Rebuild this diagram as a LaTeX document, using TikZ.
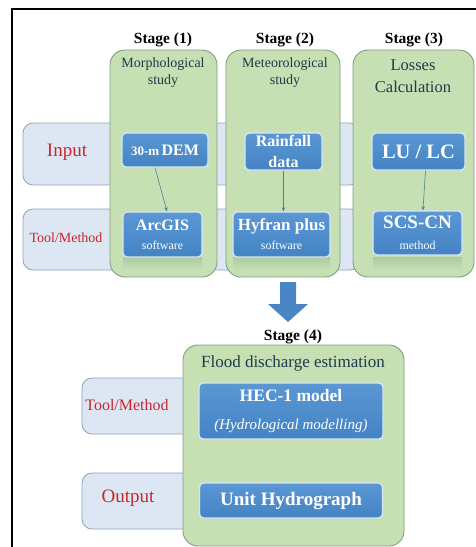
\documentclass[tikz,border=0pt]{standalone}
\usepackage{fontspec}
\setmainfont{Liberation Serif}
\usetikzlibrary{arrows.meta}
\definecolor{greenfill}{HTML}{C6E0B4}
\definecolor{greenline}{HTML}{7E9F86}
\definecolor{bandfill}{HTML}{DDE7F3}
\definecolor{bandline}{HTML}{8FA3B8}
\definecolor{bluetop}{HTML}{5A97D3}
\definecolor{bluebot}{HTML}{4483C4}
\definecolor{blueedge}{HTML}{D6E6F4}
\definecolor{labred}{HTML}{C8262E}
\definecolor{headtext}{HTML}{1F3A4A}
\definecolor{conn}{HTML}{4F7F9F}
\definecolor{bigarrow}{HTML}{4A86C6}
\definecolor{shadowc}{HTML}{ADCAA4}
\tikzset{
  greenbox/.style={draw=greenline, line width=0.9pt, fill=greenfill, rounded corners=15pt, inner sep=0pt},
  band/.style={draw=bandline, line width=0.8pt, fill=bandfill, rounded corners=10pt, inner sep=0pt},
  bluebox/.style={draw=blueedge, line width=1.4pt, top color=bluetop, bottom color=bluebot, rounded corners=4pt, inner sep=0pt, text=white, align=center, font=\bfseries},
  redlab/.style={text=labred, inner sep=0pt},
  stagelab/.style={font=\bfseries\fontsize{15.5}{18}\selectfont, inner sep=0pt},
  headlab/.style={text=headtext, align=center, inner sep=0pt},
  conn/.style={draw=conn, line width=0.6pt, -{Stealth[length=4pt,width=3.5pt]}},
}
\begin{document}
\begin{tikzpicture}[x=1pt,y=-1pt]
\useasboundingbox (0,0) rectangle (476,547);
\fill[white] (0,0) rectangle (476,547);
\draw[line width=1.5pt] (476,9) -- (12,9) -- (12,547);

% bands (behind)
\node[band, minimum width=337pt, minimum height=62pt] (bandin) at (191.5,154) {};
\node[band, minimum width=337pt, minimum height=61pt] (bandtool) at (191.5,239.5) {};
\node[band, minimum width=118pt, minimum height=56pt] (bandtool2) at (141,406) {};
\node[band, minimum width=118pt, minimum height=56pt] (bandout) at (141,501) {};

% green stage boxes
\node[greenbox, minimum width=107pt, minimum height=227pt] (g1) at (163.5,163.5) {};
\node[greenbox, minimum width=114pt, minimum height=227pt] (g2) at (283,163.5) {};
\node[greenbox, minimum width=121pt, minimum height=227pt] (g3) at (413.5,163.5) {};
\node[greenbox, minimum width=221pt, minimum height=201pt] (g4) at (293.5,445.5) {};

% band labels
\node[redlab, font=\fontsize{19}{22}\selectfont] (lin) at (67,152) {Input};
\node[redlab, font=\fontsize{14}{17}\selectfont] (ltool) at (66,238) {Tool/Method};
\node[redlab, font=\fontsize{16}{19}\selectfont] (ltool2) at (127,405) {Tool/Method};
\node[redlab, font=\fontsize{19}{22}\selectfont] (lout) at (128,498) {Output};

% stage titles
\node[stagelab] (s1) at (163,40) {Stage (1)};
\node[stagelab] (s2) at (285,40) {Stage (2)};
\node[stagelab] (s3) at (414,40) {Stage (3)};
\node[stagelab] (s4) at (293,337) {Stage (4)};

% headers
\node[headlab, font=\fontsize{14}{17}\selectfont] (h1) at (163,73) {Morphological\\study};
\node[headlab, font=\fontsize{14}{17}\selectfont] (h2) at (285,73) {Meteorological\\study};
\node[headlab, font=\fontsize{16.5}{22}\selectfont] (h3) at (413,76) {Losses\\Calculation};
\node[headlab, font=\fontsize{17}{20}\selectfont] (h4) at (293,363) {Flood discharge estimation};

% reflections under tool boxes
\foreach \cx/\w in {162.5/79, 281.5/97, 417.5/89}{
  \shade[top color=shadowc, bottom color=greenfill] (\cx-\w/2,257) rectangle (\cx+\w/2,270);
}

% blue boxes
\node[bluebox, minimum width=86pt, minimum height=34pt] (dem) at (165,150) {{\fontsize{13}{16}\selectfont 30-m} {\fontsize{16}{19}\selectfont DEM}};
\node[bluebox, minimum width=77pt, minimum height=37pt, font=\bfseries\fontsize{16}{21}\selectfont] (rain) at (283.5,151.5) {Rainfall\\data};
\node[bluebox, minimum width=93pt, minimum height=37pt, font=\bfseries\fontsize{20.5}{24}\selectfont] (lulc) at (418.5,151.5) {LU / LC};
\node[bluebox, minimum width=79pt, minimum height=45pt, font=\bfseries\fontsize{16}{19}\selectfont] (arc) at (162.5,234.5) {ArcGIS\\{\mdseries\fontsize{12}{14}\selectfont software}};
\node[bluebox, minimum width=97pt, minimum height=45pt, font=\bfseries\fontsize{17}{19}\selectfont] (hyf) at (281.5,234.5) {Hyfran plus\\{\mdseries\fontsize{12}{14}\selectfont software}};
\node[bluebox, minimum width=89pt, minimum height=44pt, font=\bfseries\fontsize{19}{21}\selectfont] (scs) at (417.5,233) {SCS-CN\\{\mdseries\fontsize{12}{14}\selectfont method}};
\node[bluebox, minimum width=184pt, minimum height=56pt, font=\bfseries\fontsize{17.5}{28}\selectfont] (hec) at (291,411) {HEC-1 model\\{\mdseries\itshape\fontsize{15}{18}\selectfont (Hydrological modelling)}};
\node[bluebox, minimum width=183pt, minimum height=35pt, font=\bfseries\fontsize{19}{22}\selectfont] (uh) at (291,500.5) {Unit Hydrograph};

% connectors
\draw[conn] ([xshift=-10pt]dem.south) -- ([xshift=4.5pt]arc.north);
\draw[conn] (rain.south) -- (rain.south |- hyf.north);
\draw[conn] ([xshift=7pt]lulc.south) -- ([xshift=5.5pt]scs.north);

% big arrow
\fill[bigarrow] (280,282) -- (296,282) -- (296,304) -- (308,304) -- (288,322) -- (268,304) -- (280,304) -- cycle;
\end{tikzpicture}
\end{document}
